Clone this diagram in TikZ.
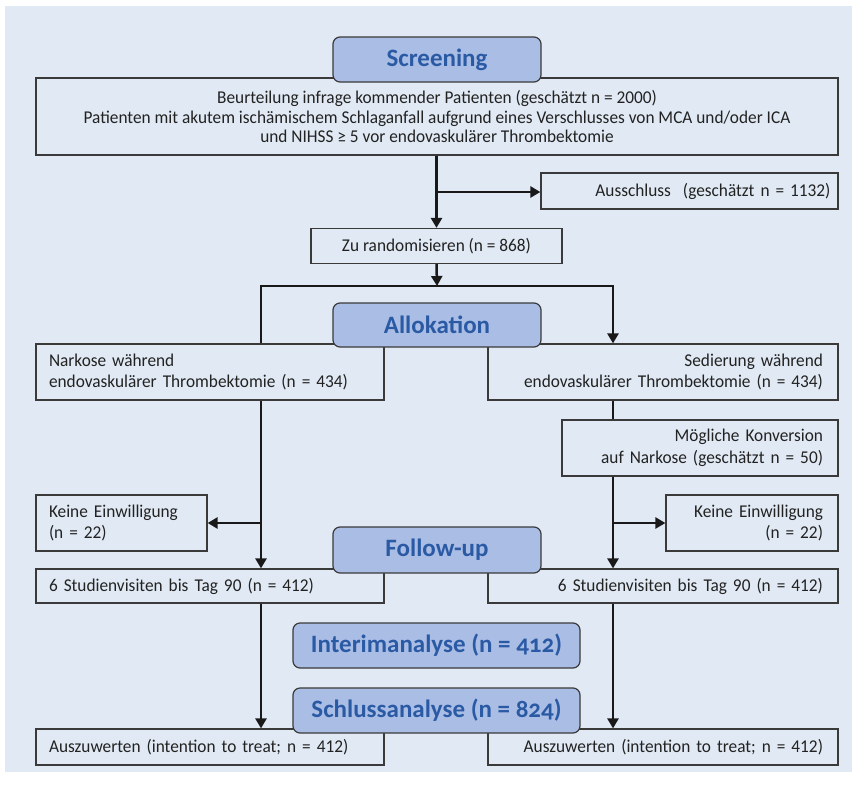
\documentclass[tikz,border=0pt]{standalone}
\usepackage{fontspec}
\setmainfont{Carlito}[FakeStretch=0.96]
\newfontfamily\headfont[Numbers=OldStyle]{Carlito}
\usetikzlibrary{arrows.meta}
\definecolor{panel}{HTML}{E1EAF4}
\definecolor{headfill}{HTML}{AABDE5}
\definecolor{headtext}{HTML}{2B5AA5}
\definecolor{boxline}{HTML}{3A3A3A}
\definecolor{txt}{HTML}{222222}
\tikzset{
  plainbox/.style={draw=boxline, line width=1.2pt, fill=panel, inner sep=0pt, text=txt,
    font=\fontsize{18}{21.5}\selectfont},
  headbox/.style={draw=boxline, line width=1.2pt, fill=headfill, rounded corners=7pt,
    inner sep=0pt, text=headtext, font=\headfont\bfseries\fontsize{25}{30}\selectfont},
  conn/.style={line width=2.5pt, draw=black!90},
  arr/.style={conn, -{Triangle[length=10pt,width=11pt]}},
}
\begin{document}
\begin{tikzpicture}[x=1pt,y=-1pt]
\useasboundingbox (0,0) rectangle (855,788);
\fill[panel] (5,6) rectangle (852,772);
% boxes
\node[plainbox, minimum width=802pt, minimum height=77pt, align=center,
  font=\fontsize{18}{19.5}\selectfont] (big) at (437,116.5)
  {Beurteilung infrage kommender Patienten (geschätzt n = 2000)\\Patienten mit akutem ischämischem Schlaganfall aufgrund eines Verschlusses von MCA und/oder ICA\\und NIHSS ≥ 5 vor endovaskulärer Thrombektomie};
\node[headbox, minimum width=208pt, minimum height=45pt] (scr) at (437,59.5) {Screening};
\node[plainbox, minimum width=297pt, minimum height=36pt, text width=282pt, align=right] (aus) at (689.5,191)
  {Ausschluss\ \ (geschätzt n = 1132)};
\node[plainbox, minimum width=251pt, minimum height=35pt, align=center] (zu) at (436.5,246)
  {Zu randomisieren (n = 868)};
\node[plainbox, minimum width=348pt, minimum height=56pt, text width=322pt, align=left] (nark) at (210,372)
  {Narkose während\\endovaskulärer Thrombektomie (n = 434)};
\node[plainbox, minimum width=350pt, minimum height=56pt, text width=320pt, align=right] (sed) at (663,372)
  {Sedierung während\\endovaskulärer Thrombektomie (n = 434)};
\node[headbox, minimum width=208pt, minimum height=44pt] (allo) at (437,325) {Allokation};
\node[plainbox, minimum width=276pt, minimum height=56pt, text width=246pt, align=right] (mog) at (700,448)
  {Mögliche Konversion\\auf Narkose (geschätzt n = 50)};
\node[plainbox, minimum width=171pt, minimum height=56pt, text width=145pt, align=left] (keinL) at (121.5,523)
  {Keine Einwilligung\\(n = 22)};
\node[plainbox, minimum width=172pt, minimum height=56pt, text width=142pt, align=right] (keinR) at (752,523)
  {Keine Einwilligung\\(n = 22)};
\node[plainbox, minimum width=348pt, minimum height=34pt, text width=322pt, align=left] (studL) at (210,586)
  {6 Studienvisiten bis Tag 90 (n = 412)};
\node[plainbox, minimum width=350pt, minimum height=34pt, text width=320pt, align=right] (studR) at (663,586)
  {6 Studienvisiten bis Tag 90 (n = 412)};
\node[headbox, minimum width=208pt, minimum height=46pt] (fol) at (437,550) {Follow-up};
\node[plainbox, minimum width=348pt, minimum height=36pt, text width=322pt, align=left] (auszL) at (210,747)
  {Auszuwerten (intention to treat; n = 412)};
\node[plainbox, minimum width=350pt, minimum height=36pt, text width=320pt, align=right] (auszR) at (663,747)
  {Auszuwerten (intention to treat; n = 412)};
\node[headbox, minimum width=287pt, minimum height=45pt] (int) at (436.5,645.5) {Interimanalyse (n = 412)};
\node[headbox, minimum width=287pt, minimum height=45pt] (sch) at (436.5,710.5) {Schlussanalyse (n = 824)};
% connectors
\coordinate (b1) at (437,192);
\coordinate (j1) at (437,286);
\coordinate (jl) at (261,286);
\coordinate (jr) at (613,286);
\coordinate (kl) at (261,523);
\coordinate (kr) at (613,523);
\draw[arr] (big.south -| zu.north) -- (zu.north);
\draw[arr] (b1) -- (b1 -| aus.west);
\draw[arr] (zu.south) -- (j1);
\draw[arr] (jl |- nark.north) -- (jl) -- (jr) -- (jr |- sed.north);
\draw[arr] (jl |- nark.south) -- (jl |- studL.north);
\draw[arr] (kl) -- (kl -| keinL.east);
\draw[conn] (jr |- sed.south) -- (jr |- mog.north);
\draw[arr] (jr |- mog.south) -- (jr |- studR.north);
\draw[arr] (kr) -- (kr -| keinR.west);
\draw[arr] (jl |- studL.south) -- (jl |- auszL.north);
\draw[arr] (jr |- studR.south) -- (jr |- auszR.north);
\end{tikzpicture}
\end{document}
